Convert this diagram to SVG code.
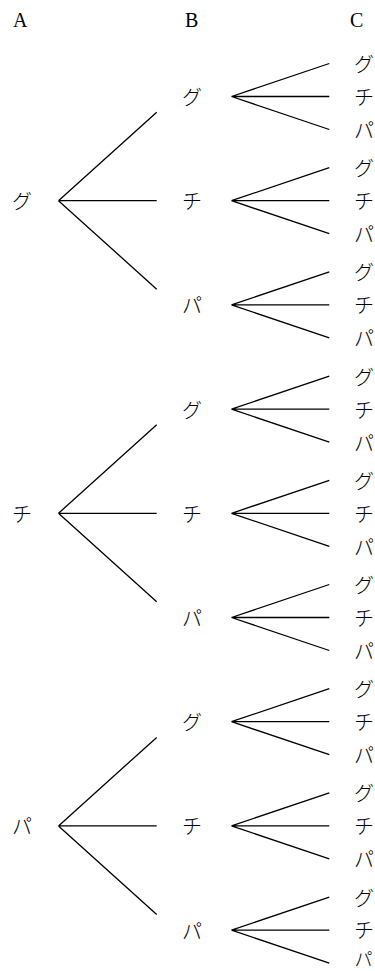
<svg xmlns="http://www.w3.org/2000/svg" width="375" height="971" viewBox="0 0 375 971">
<style>
.h{font-family:"Liberation Serif",serif;font-size:20px;fill:#000}
.k{font-family:"Noto Sans CJK JP",sans-serif;font-size:20px;fill:#000;dominant-baseline:central;font-weight:300}
.e{stroke:#000;stroke-width:1.3;fill:none}
</style>
<rect width="375" height="971" fill="#fff"/>
<g id="headers">
<text class="h" x="13" y="27">A</text>
<text class="h" x="185" y="27">B</text>
<text class="h" x="350" y="27">C</text>
</g>
<g id="connectors" class="e">
<path d="M58.5 200.7L156.7 112.2M58.5 200.7H156.7M58.5 200.7L156.7 289.2"/>
<path d="M58.5 513.3L156.7 424.8M58.5 513.3H156.7M58.5 513.3L156.7 601.8"/>
<path d="M58.5 825.9L156.7 737.4M58.5 825.9H156.7M58.5 825.9L156.7 914.4"/>
<path d="M231.5 96.5L329.3 63.5M231.5 96.5H329.3M231.5 96.5L329.3 129.5"/>
<path d="M231.5 200.7L329.3 167.7M231.5 200.7H329.3M231.5 200.7L329.3 233.7"/>
<path d="M231.5 304.9L329.3 271.9M231.5 304.9H329.3M231.5 304.9L329.3 337.9"/>
<path d="M231.5 409.1L329.3 376.1M231.5 409.1H329.3M231.5 409.1L329.3 442.1"/>
<path d="M231.5 513.3L329.3 480.3M231.5 513.3H329.3M231.5 513.3L329.3 546.3"/>
<path d="M231.5 617.5L329.3 584.5M231.5 617.5H329.3M231.5 617.5L329.3 650.5"/>
<path d="M231.5 721.7L329.3 688.7M231.5 721.7H329.3M231.5 721.7L329.3 754.7"/>
<path d="M231.5 825.9L329.3 792.9M231.5 825.9H329.3M231.5 825.9L329.3 858.9"/>
<path d="M231.5 930.1L329.3 897.1M231.5 930.1H329.3M231.5 930.1L329.3 963.1"/>
</g>
<g id="levelA" class="k">
<text x="12" y="200.7">グ</text>
<text x="12" y="513.3">チ</text>
<text x="12" y="825.9">パ</text>
</g>
<g id="levelB" class="k">
<text x="182" y="96.5">グ</text>
<text x="182" y="200.7">チ</text>
<text x="182" y="304.9">パ</text>
<text x="182" y="409.1">グ</text>
<text x="182" y="513.3">チ</text>
<text x="182" y="617.5">パ</text>
<text x="182" y="721.7">グ</text>
<text x="182" y="825.9">チ</text>
<text x="182" y="930.1">パ</text>
</g>
<g id="levelC" class="k">
<text x="354" y="63.5">グ</text><text x="354" y="96.5">チ</text><text x="354" y="129.5">パ</text>
<text x="354" y="167.7">グ</text><text x="354" y="200.7">チ</text><text x="354" y="233.7">パ</text>
<text x="354" y="271.9">グ</text><text x="354" y="304.9">チ</text><text x="354" y="337.9">パ</text>
<text x="354" y="376.1">グ</text><text x="354" y="409.1">チ</text><text x="354" y="442.1">パ</text>
<text x="354" y="480.3">グ</text><text x="354" y="513.3">チ</text><text x="354" y="546.3">パ</text>
<text x="354" y="584.5">グ</text><text x="354" y="617.5">チ</text><text x="354" y="650.5">パ</text>
<text x="354" y="688.7">グ</text><text x="354" y="721.7">チ</text><text x="354" y="754.7">パ</text>
<text x="354" y="792.9">グ</text><text x="354" y="825.9">チ</text><text x="354" y="858.9">パ</text>
<text x="354" y="897.1">グ</text><text x="354" y="929">チ</text><text x="354.5" y="958" font-size="18">パ</text>
</g>
</svg>
